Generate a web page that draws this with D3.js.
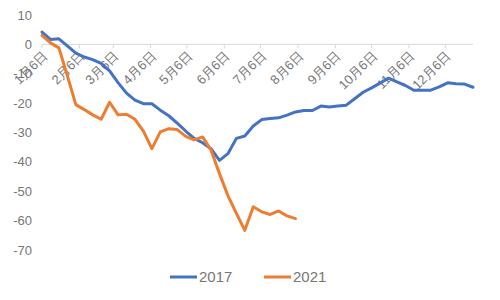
<!DOCTYPE html>
<meta charset="utf-8">
<style>
  body { margin: 0; background: #fff; }
  text { font-family: "Liberation Sans", Arial, sans-serif; fill: #767676; }
</style>
<body>
<script src="https://cdn.jsdelivr.net/npm/d3@7"></script>
<script>

// weekly readings, first week = 1月6日
var series = ["2017", "2021"];
var colors = ["#4472C4", "#ED7D31"];

var values2017 = [4.2, 1.7, 1.9, -0.5, -3, -4.3, -5.2, -6.5, -9, -13,
    -16.6, -19, -20.2, -20.2, -22.4, -24.3, -26.8, -29.5, -32, -33.5,
    -35.5, -39.5, -37.2, -32, -31.2, -27.8, -25.6, -25.2, -25, -24.1,
    -23, -22.5, -22.5, -21, -21.3, -21, -20.7, -18.5, -16.3, -14.8,
    -13.2, -11.5, -12.8, -14, -15.6, -15.6, -15.6, -14.5, -13.1, -13.4,
    -13.5, -14.6];

var values2021 = [3.1, 0.5, -1.2, -10.7, -20.5, -22.2, -24, -25.5, -19.7, -24,
    -23.8, -25.5, -29.5, -35.5, -29.8, -28.7, -29, -31.3, -32.5, -31.5,
    -36, -44, -51.5, -57.5, -63.3, -55.3, -57, -57.9, -56.7, -58.4,
    -59.3];

var yTicks = [10, 0, -10, -20, -30, -40, -50, -60, -70];
var monthTicks = [1, 2, 3, 4, 5, 6, 7, 8, 9, 10, 11, 12];
var tickLabels = monthTicks.map(function (m) { return m + "月6日"; });

var width = 500, height = 300;
var svg = d3.select("body").append("svg")
    .attr("width", width)
    .attr("height", height);

var start = new Date(2017, 0, 6);
function weekDate(i) { return d3.timeDay.offset(start, 7 * i); }

var x = d3.scaleTime()
    .domain([start, weekDate(51)])
    .range([42, 473]);
var y = d3.scaleLinear()
    .domain([-70, 10])
    .range([250, 15]);

// y labels
svg.append("g").selectAll("text")
    .data(yTicks)
    .enter().append("text")
    .attr("x", 32)
    .attr("y", function (d) { return y(d); })
    .attr("dy", "0.35em")
    .attr("text-anchor", "end")
    .style("font-size", "13px")
    .text(function (d) { return d; });

// zero axis
var y0 = y(0);
svg.append("line")
    .attr("x1", x(start)).attr("x2", 473)
    .attr("y1", y0).attr("y2", y0)
    .attr("stroke", "#d9d9d9").attr("stroke-width", 1);

var tickDates = monthTicks.map(function (m) { return new Date(2017, m - 1, 6); });

svg.append("g").selectAll("line")
    .data(tickDates)
    .enter().append("line")
    .attr("x1", function (d) { return x(d); })
    .attr("x2", function (d) { return x(d); })
    .attr("y1", y0).attr("y2", y0 + 4)
    .attr("stroke", "#d9d9d9");

svg.append("g").selectAll("text")
    .data(tickDates)
    .enter().append("text")
    .attr("transform", function (d) {
        return "translate(" + (x(d) + 3) + "," + (y0 + 9) + ") rotate(-45)";
    })
    .attr("text-anchor", "end")
    .attr("dy", "0.35em")
    .style("font-size", "13px")
    .text(function (d, i) { return tickLabels[i]; });

// lines
var line = d3.line()
    .x(function (d, i) { return x(weekDate(i)); })
    .y(function (d) { return y(d); });

[values2017, values2021].forEach(function (vals, k) {
    svg.append("path")
        .datum(vals)
        .attr("fill", "none")
        .attr("stroke", colors[k])
        .attr("stroke-width", 3)
        .attr("stroke-linejoin", "round")
        .attr("stroke-linecap", "round")
        .attr("d", line);
});

// legend
var legendX = [170, 264];
series.forEach(function (s, k) {
    var g = svg.append("g").attr("transform", "translate(" + legendX[k] + ",277)");
    g.append("line")
        .attr("x1", 0).attr("x2", 27)
        .attr("stroke", colors[k]).attr("stroke-width", 3);
    g.append("text")
        .attr("x", 29)
        .attr("dy", "0.35em")
        .style("font-size", "15px")
        .text(s);
});

</script>
</body>
